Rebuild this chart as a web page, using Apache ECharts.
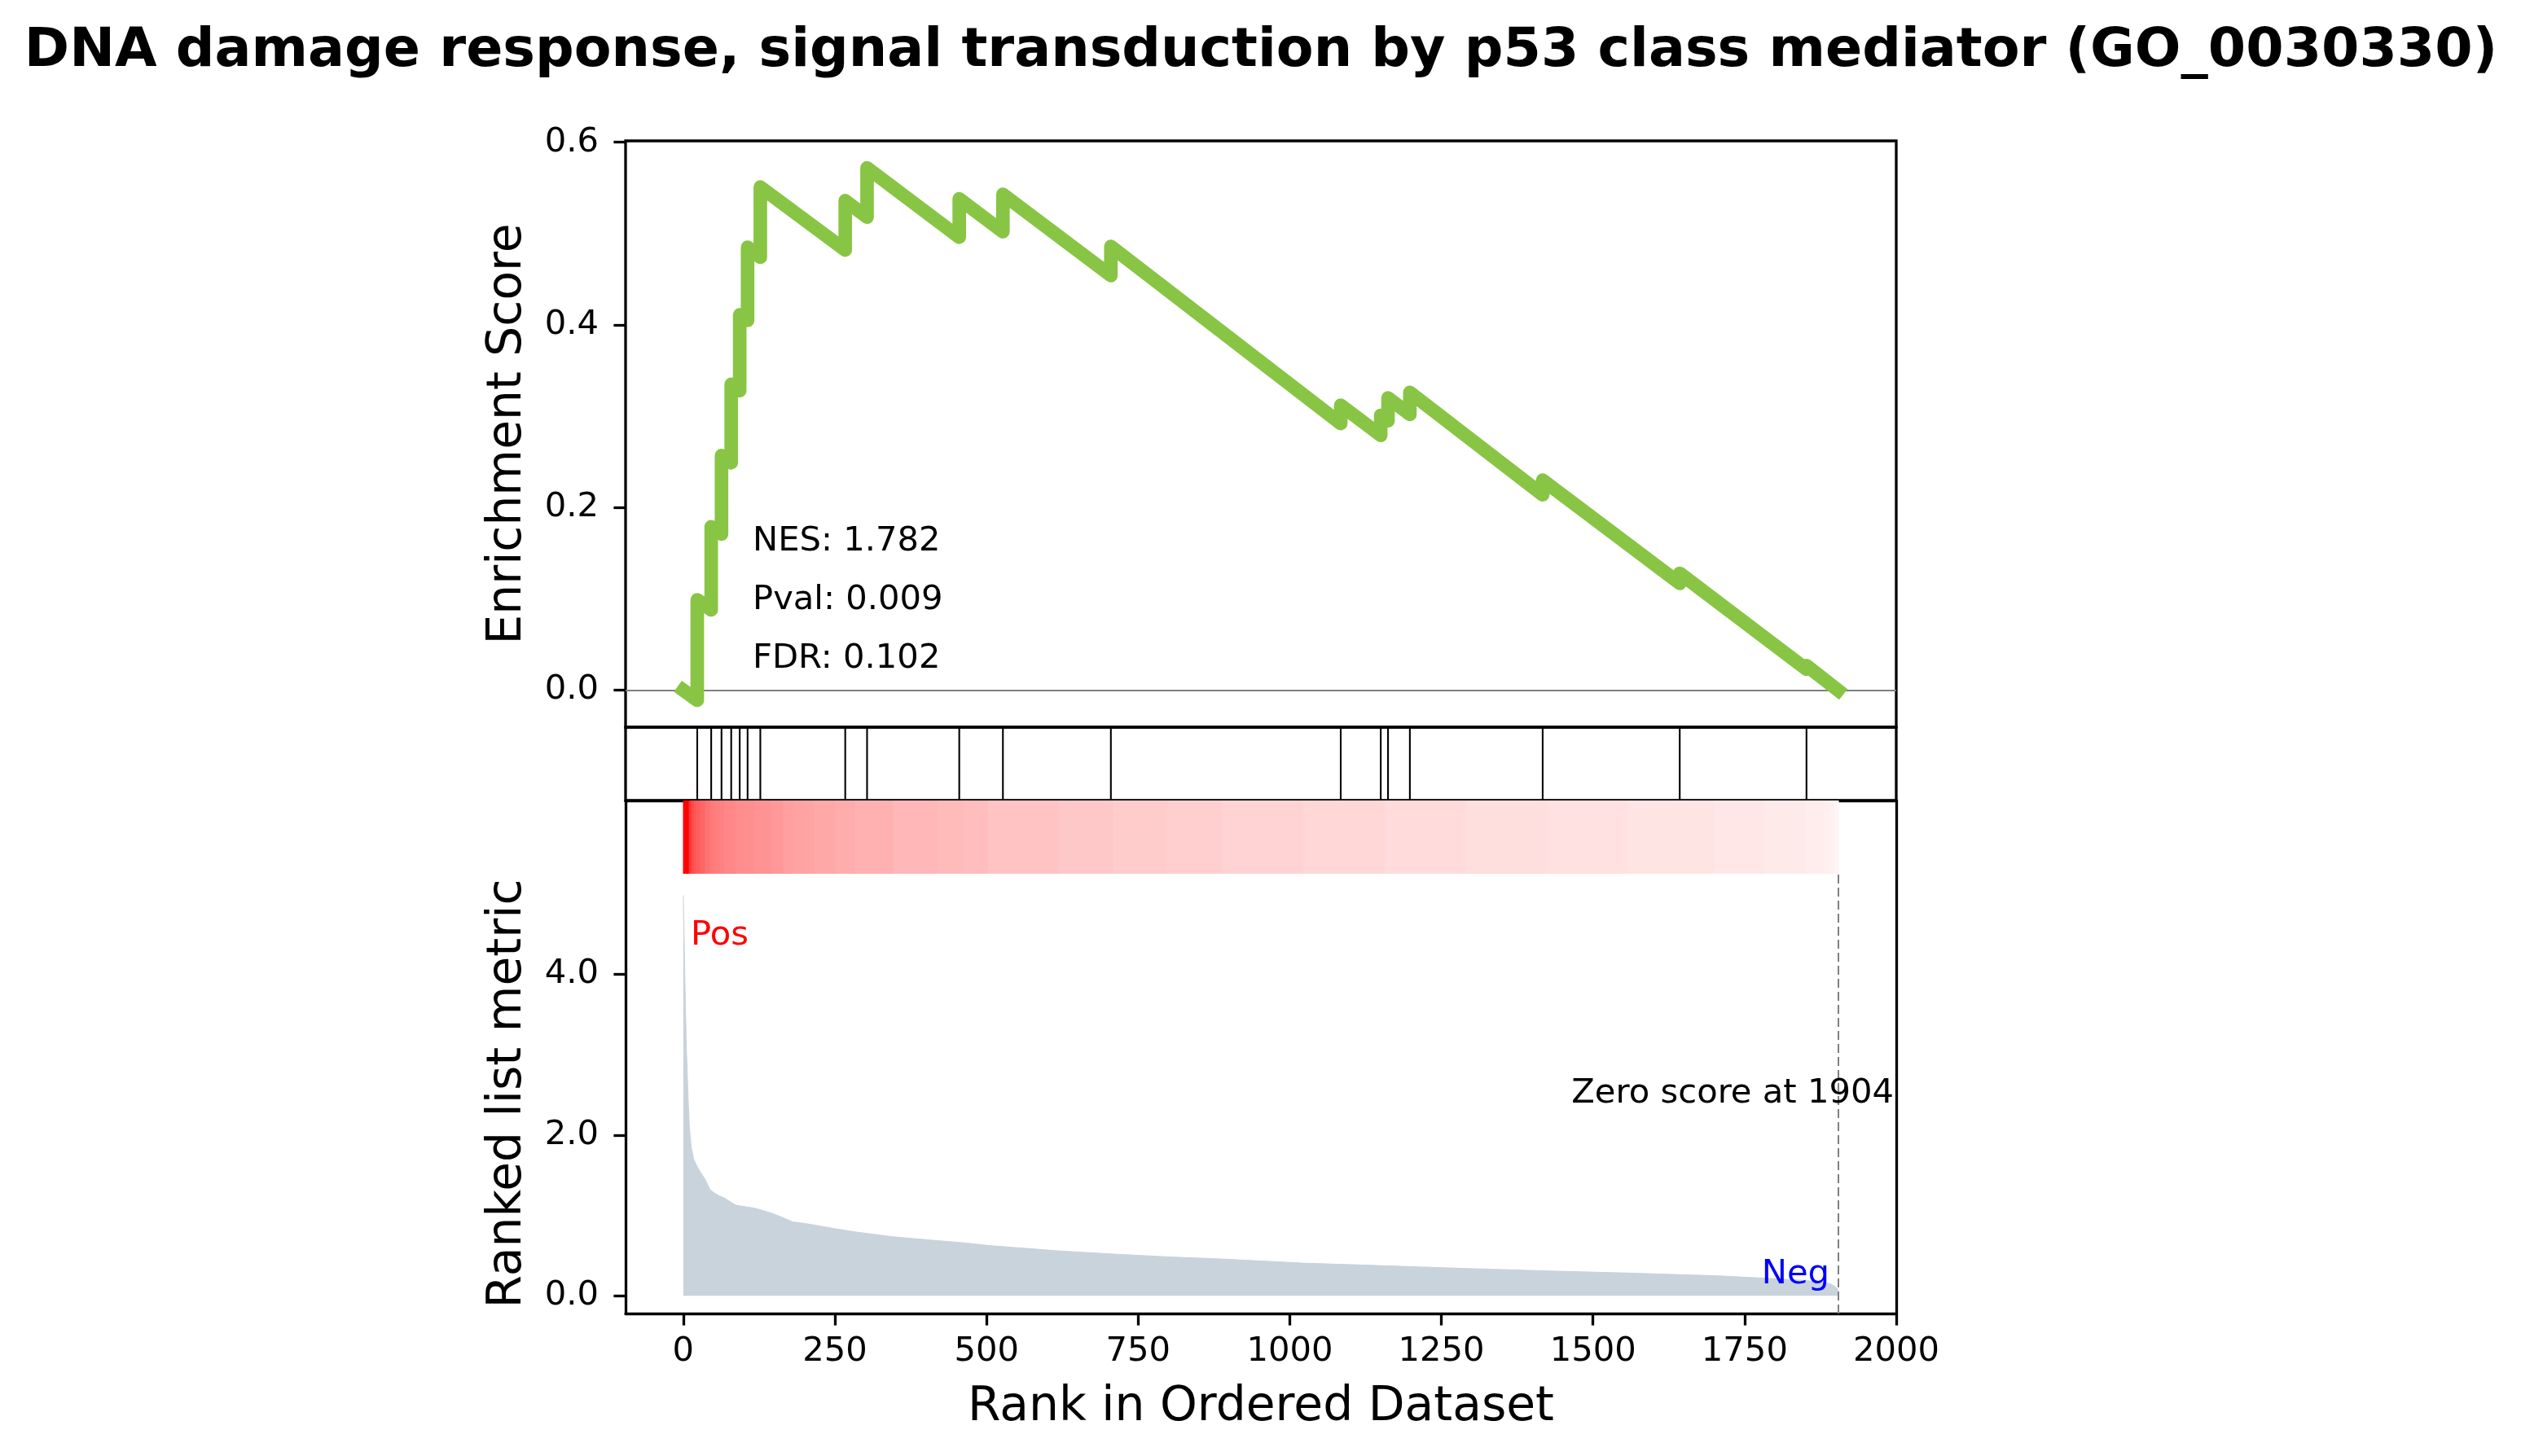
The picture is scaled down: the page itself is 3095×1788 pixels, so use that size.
<!DOCTYPE html>
<html>
<head>
<meta charset="utf-8">
<script src="https://cdn.jsdelivr.net/npm/echarts@6.0.0/dist/echarts.min.js"></script>
<style>
html,body{margin:0;padding:0;background:#fff;}
#chart{width:3095px;height:1788px;}
</style>
</head>
<body>
<div id="chart"></div>
<script>
// ---------------- data ----------------
const titleText = 'DNA damage response, signal transduction by p53 class mediator (GO_0030330)';
const statLabels = ['NES: 1.782', 'Pval: 0.009', 'FDR: 0.102'];
const zeroScoreIndex = 1904;

// gene hit positions in the ranked list
const hitRanks = [23, 46, 63, 79, 93, 106, 127, 267, 303, 455, 527, 705, 1084, 1150, 1162, 1198, 1417, 1643, 1852];

// running enrichment score vertices (before / after each hit)
const esRank  = [0, 23, 23, 46, 46, 63, 63, 79, 79, 93, 93, 106, 106, 127, 127, 267, 267, 303, 303, 455, 455, 527, 527, 705, 705, 1084, 1084, 1150, 1150, 1162, 1162, 1198, 1198, 1417, 1417, 1643, 1643, 1852, 1852, 1904];
const esScore = [0, -0.011, 0.099, 0.088, 0.179, 0.171, 0.257, 0.249, 0.335, 0.328, 0.411, 0.405, 0.485, 0.474, 0.551, 0.482, 0.536, 0.518, 0.572, 0.496, 0.538, 0.502, 0.543, 0.454, 0.486, 0.292, 0.312, 0.279, 0.301, 0.295, 0.320, 0.302, 0.326, 0.214, 0.230, 0.117, 0.128, 0.023, 0.027, 0.000];

// ranked list metric
const metricRank  = [0, 1, 2, 3, 5, 8, 10, 13, 17, 22, 28, 36, 44, 51, 60, 68, 86, 100, 118, 145, 165, 180, 200, 216, 250, 283, 346, 418, 462, 503, 619, 709, 798, 888, 1022, 1156, 1291, 1425, 1559, 1700, 1783, 1850, 1880, 1891, 1898, 1904];
const metricValue = [4.98, 4.6, 4.2, 3.8, 3.1, 2.45, 2.1, 1.85, 1.7, 1.62, 1.54, 1.45, 1.32, 1.28, 1.24, 1.215, 1.13, 1.11, 1.09, 1.03, 0.97, 0.92, 0.9, 0.88, 0.835, 0.795, 0.734, 0.687, 0.66, 0.626, 0.559, 0.519, 0.485, 0.458, 0.407, 0.374, 0.34, 0.31, 0.283, 0.25, 0.22, 0.19, 0.17, 0.15, 0.12, 0.08];

const xTicks = [0, 250, 500, 750, 1000, 1250, 1500, 1750, 2000];
const esTicks = [0, 0.2, 0.4, 0.6];
const metricTicks = [0, 2, 4];

// ---------------- layout ----------------
const FONT = 'DejaVu Sans';
const L = 768, W = 1560;
const G0 = {top: 173, h: 720};
const G1 = {top: 893, h: 90};
const G2 = {top: 983, h: 90};
const G3 = {top: 1073, h: 540};
const XMIN = -95.2, XMAX = 2000;
const SPINE = 3.3;
const TICKLEN = 14.6;
const TICKFS = 41.7;

const chart = echarts.init(document.getElementById('chart'), null, {renderer: 'canvas'});

const esData = esRank.map((r, i) => [r, esScore[i]]);
const metricData = metricRank.map((r, i) => [r, metricValue[i]]);
const hitData = hitRanks.map(r => [r]);
const barData = [];
for (let i = 0; i < metricRank.length - 1; i++) {
  barData.push([metricRank[i] - (i === 0 ? 0.5 : 0), metricRank[i + 1], (metricValue[i] + metricValue[i + 1]) / 2]);
}
barData.push([metricRank[metricRank.length - 1], metricRank[metricRank.length - 1] + 0.5, metricValue[metricValue.length - 1]]);

function hiddenX(gi) {
  return {type: 'value', gridIndex: gi, min: XMIN, max: XMAX, show: false};
}
const lineAxis = {show: true, onZero: false, lineStyle: {color: '#000', width: SPINE}};

function txt(x, y, text, size, color, align, extra) {
  return Object.assign({type: 'text', x: x, y: y, z: 100, zlevel: 0,
    style: {text: text, fontFamily: FONT, fontSize: size, fill: color, align: align, verticalAlign: 'middle'}}, extra || {});
}

const option = {
  animation: false,
  backgroundColor: '#fff',
  textStyle: {fontFamily: FONT},
  grid: [
    {left: L, top: G0.top, width: W, height: G0.h, show: true, borderColor: '#000', borderWidth: SPINE, backgroundColor: 'transparent'},
    {left: L, top: G1.top, width: W, height: G1.h, show: true, borderColor: '#000', borderWidth: SPINE, backgroundColor: 'transparent'},
    {left: L, top: G2.top, width: W, height: G2.h},
    {left: L, top: G3.top, width: W, height: G3.h}
  ],
  xAxis: [
    hiddenX(0),
    hiddenX(1),
    {type: 'value', gridIndex: 2, min: XMIN, max: XMAX, position: 'top', axisLine: lineAxis, axisTick: {show: false}, axisLabel: {show: false}, splitLine: {show: false}},
    {type: 'value', gridIndex: 3, min: XMIN, max: XMAX, position: 'bottom', axisLine: lineAxis,
      axisTick: {show: true, inside: false, length: TICKLEN, lineStyle: {color: '#000', width: SPINE}, customValues: xTicks},
      axisLabel: {show: true, margin: 26, fontSize: TICKFS, fontFamily: FONT, color: '#000', customValues: xTicks, showMaxLabel: true, formatter: v => String(Math.round(v))},
      splitLine: {show: false}}
  ],
  yAxis: [
    {type: 'value', gridIndex: 0, min: -0.0405, max: 0.6015, axisLine: {show: false, onZero: false},
      axisTick: {show: true, inside: false, length: TICKLEN, lineStyle: {color: '#000', width: SPINE}, customValues: esTicks},
      axisLabel: {show: true, margin: 33, fontSize: TICKFS, fontFamily: FONT, color: '#000', customValues: esTicks, formatter: v => v.toFixed(1)},
      splitLine: {show: false}},
    {type: 'value', gridIndex: 1, min: 0, max: 1, show: false},
    {type: 'value', gridIndex: 2, min: 0, max: 1, position: 'left', axisLine: lineAxis, axisTick: {show: false}, axisLabel: {show: false}, splitLine: {show: false}},
    {type: 'value', gridIndex: 2, min: 0, max: 1, position: 'right', axisLine: lineAxis, axisTick: {show: false}, axisLabel: {show: false}, splitLine: {show: false}},
    {type: 'value', gridIndex: 3, min: -0.22, max: 5.25, position: 'left', axisLine: lineAxis,
      axisTick: {show: true, inside: false, length: TICKLEN, lineStyle: {color: '#000', width: SPINE}, customValues: metricTicks},
      axisLabel: {show: true, margin: 33, fontSize: TICKFS, fontFamily: FONT, color: '#000', customValues: metricTicks, formatter: v => v.toFixed(1)},
      splitLine: {show: false}},
    {type: 'value', gridIndex: 3, min: -0.22, max: 5.25, position: 'right', axisLine: lineAxis, axisTick: {show: false}, axisLabel: {show: false}, splitLine: {show: false}}
  ],
  visualMap: [{
    type: 'continuous', show: false, seriesIndex: 3, dimension: 2, min: 0, max: 2.5,
    inRange: {color: ['#ffffff', '#ff0000']}
  }],
  series: [
    // zero line of the ES plot
    {type: 'line', xAxisIndex: 0, yAxisIndex: 0, data: [], z: 1, silent: true,
      markLine: {silent: true, symbol: ['none', 'none'], label: {show: false},
        lineStyle: {color: '#808080', width: 2, type: 'solid'}, data: [{yAxis: 0}]}},
    // running enrichment score
    {type: 'line', xAxisIndex: 0, yAxisIndex: 0, data: esData, showSymbol: false, z: 5,
      lineStyle: {color: '#88C544', width: 16.7, join: 'round', cap: 'square'}},
    // hits
    {type: 'custom', xAxisIndex: 1, yAxisIndex: 1, data: hitData, z: 3,
      renderItem: function (params, api) {
        const p0 = api.coord([api.value(0), 0]);
        const p1 = api.coord([api.value(0), 1]);
        return {type: 'line', shape: {x1: p0[0], y1: p0[1], x2: p1[0], y2: p1[1]}, style: {stroke: '#000', lineWidth: 2.1}};
      }},
    // colour bar of ranked metric
    {type: 'custom', xAxisIndex: 2, yAxisIndex: 2, data: barData, z: 1,
      encode: {x: [0, 1]},
      renderItem: function (params, api) {
        const a = api.coord([api.value(0), 1]);
        const b = api.coord([api.value(1), 0]);
        return {type: 'rect', shape: {x: a[0], y: a[1], width: Math.max(b[0] - a[0] + 0.6, 0.6), height: b[1] - a[1]},
          style: {fill: api.visual('color')}};
      }},
    // ranked list metric area
    {type: 'line', xAxisIndex: 3, yAxisIndex: 4, data: metricData, showSymbol: false, z: 2,
      lineStyle: {color: '#C9D3DB', width: 1},
      areaStyle: {color: '#C9D3DB', opacity: 1},
      markLine: {silent: true, symbol: ['none', 'none'], label: {show: false},
        lineStyle: {color: '#808080', width: 2, type: [11, 5]}, data: [{xAxis: zeroScoreIndex}]}}
  ],
  graphic: {
    elements: [
      {type: 'text', x: 1548, y: 64, z: 100, style: {text: titleText, fontFamily: FONT, fontWeight: 'bold', fontSize: 66.7, fill: '#000', align: 'center', verticalAlign: 'middle'}},
      txt(624, G0.top + G0.h / 2, 'Enrichment Score', 58.3, '#000', 'center', {rotation: Math.PI / 2}),
      txt(624, G3.top + G3.h / 2, 'Ranked list metric', 58.3, '#000', 'center', {rotation: Math.PI / 2}),
      txt(L + W / 2, 1729, 'Rank in Ordered Dataset', 58.3, '#000', 'center'),
      txt(924, 665, statLabels[0], TICKFS, '#000', 'left'),
      txt(924, 737, statLabels[1], TICKFS, '#000', 'left'),
      txt(924, 809, statLabels[2], TICKFS, '#000', 'left'),
      txt(848, 1149, 'Pos', TICKFS, '#ff0000', 'left'),
      txt(2246, 1565, 'Neg', TICKFS, '#0000ff', 'right'),
      txt(2325, 1343, 'Zero score at ' + zeroScoreIndex, TICKFS, '#000', 'right')
    ]
  }
};
chart.setOption(option);
</script>
</body>
</html>
